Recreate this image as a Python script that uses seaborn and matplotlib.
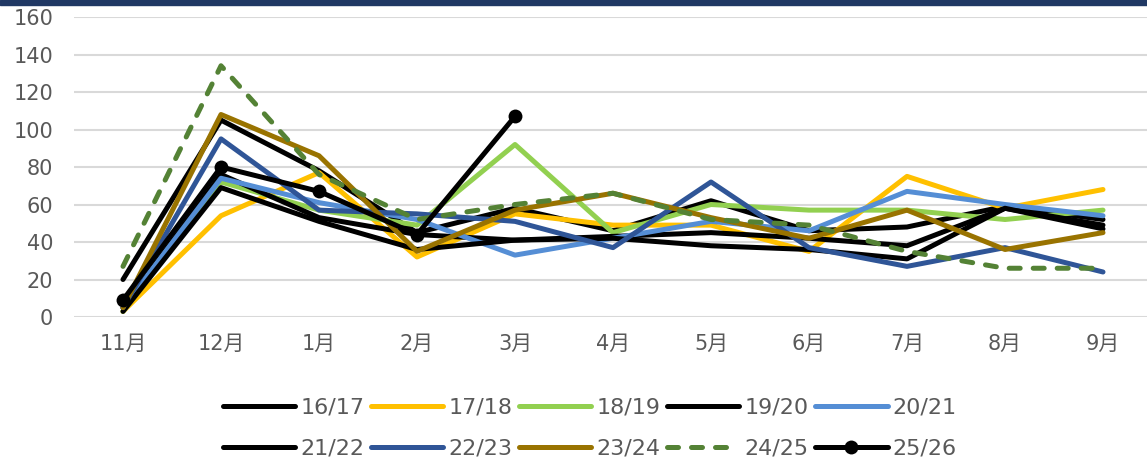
import matplotlib
matplotlib.use("Agg")
import matplotlib.pyplot as plt
import seaborn as sns
import pandas as pd

sns.set_style("white")
plt.rcParams["font.family"] = ["DejaVu Sans", "Noto Sans CJK SC"]

MONTHS = ["11月", "12月", "1月", "2月", "3月", "4月", "5月", "6月", "7月", "8月", "9月"]

S_16_17 = [20, 105, 78, 45, 58, 46, 62, 46, 48, 59, 52]
S_17_18 = [3, 54, 77, 32, 55, 49, 49, 35, 75, 58, 68]
S_18_19 = [3, 72, 57, 49, 92, 45, 60, 57, 57, 52, 57]
S_19_20 = [5, 76, 53, 44, 41, 43, 45, 42, 38, 58, 49]
S_20_21 = [5, 74, 61, 52, 33, 42, 51, 46, 67, 60, 54]
S_21_22 = [3, 69, 51, 36, 41, 42, 38, 36, 31, 58, 47]
S_22_23 = [5, 95, 57, 55, 51, 37, 72, 37, 27, 37, 24]
S_23_24 = [5, 108, 86, 35, 57, 66, 53, 42, 57, 36, 45]
S_24_25 = [27, 134, 76, 52, 60, 66, 52, 49, 35, 26, 26]
S_25_26 = [9, 80, 67, 44, 107]

SEASONS = ["16/17", "17/18", "18/19", "19/20", "20/21",
           "21/22", "22/23", "23/24", "24/25", "25/26"]
VALUES = [S_16_17, S_17_18, S_18_19, S_19_20, S_20_21,
          S_21_22, S_22_23, S_23_24, S_24_25, S_25_26]
COLORS = ["#000000", "#FFC000", "#92D050", "#000000", "#558ED5",
          "#000000", "#2F5597", "#997300", "#548235", "#000000"]

rows = []
for season, vals in zip(SEASONS, VALUES):
    for i, v in enumerate(vals):
        rows.append({"season": season, "x": i, "value": v})
df = pd.DataFrame(rows)

fig = plt.figure(figsize=(11.47, 4.61), dpi=100)
ax = fig.add_axes([74 / 1147, 1 - 317 / 461, 1078 / 1147, 300 / 461])

lw = 3.6
for season, color in zip(SEASONS, COLORS):
    sub = df[df.season == season]
    kw = {}
    if season == "24/25":
        kw["linestyle"] = (0, (2.2, 2.6))
    if season == "25/26":
        kw["marker"] = "o"
        kw["markersize"] = 10
        kw["markeredgewidth"] = 0
    sns.lineplot(data=sub, x="x", y="value", ax=ax, color=color, lw=lw,
                 label=season, sort=False, solid_capstyle="round",
                 dash_capstyle="round", **kw)

ax.set_xlim(-0.5, 10.5)
ax.set_ylim(0, 160)
ax.set_yticks(range(0, 161, 20))
ax.set_xticks(range(len(MONTHS)))
ax.set_xticklabels(MONTHS)
ax.set_xlabel("")
ax.set_ylabel("")
ax.yaxis.grid(True, color="#D9D9D9", lw=1.5)
ax.set_axisbelow(True)
for s in ax.spines.values():
    s.set_visible(False)
ax.tick_params(axis="both", length=0, labelsize=15, labelcolor="#595959")
ax.tick_params(axis="y", pad=15)
ax.tick_params(axis="x", pad=12)

handles, labels = ax.get_legend_handles_labels()
order = [0, 5, 1, 6, 2, 7, 3, 8, 4, 9]
ax.legend([handles[i] for i in order], [labels[i] for i in order],
          ncol=5, loc="center", bbox_to_anchor=(590 / 1147, 1 - 428 / 461),
          bbox_transform=fig.transFigure, frameon=False, fontsize=16,
          labelcolor="#595959", handlelength=3.25, handletextpad=0.23,
          columnspacing=0.3, labelspacing=0.95)

fig.patches.append(plt.Rectangle((0, 1 - 5 / 461), 1, 5 / 461,
                                 transform=fig.transFigure, color="#203864"))

fig.savefig("out.png", dpi=100)
